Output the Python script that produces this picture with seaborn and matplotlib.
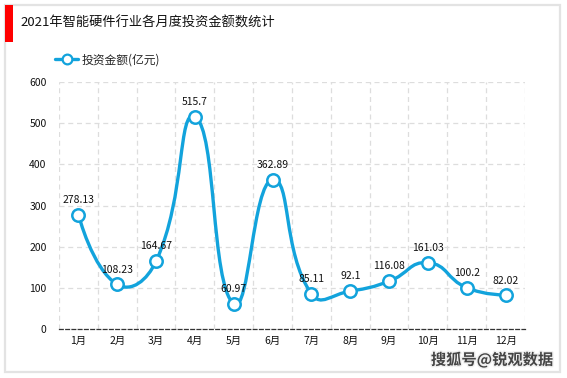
import numpy as np
import matplotlib
matplotlib.use('Agg')
import matplotlib.pyplot as plt
import matplotlib.patheffects as pe
from matplotlib.path import Path
from matplotlib.patches import PathPatch, Rectangle
from matplotlib.lines import Line2D
import seaborn as sns
import pandas as pd

# Data
months = ['1月', '2月', '3月', '4月', '5月', '6月', '7月', '8月', '9月', '10月', '11月', '12月']
invest = [278.13, 108.23, 164.67, 515.7, 60.97, 362.89, 85.11, 92.1, 116.08, 161.03, 100.2, 82.02]
value_labels = ['278.13', '108.23', '164.67', '515.7', '60.97', '362.89', '85.11', '92.1', '116.08', '161.03', '100.2', '82.02']

title = '2021年智能硬件行业各月度投资金额数统计'
series_name = '投资金额(亿元)'
watermark = '搜狐号@锐观数据'

sns.set_theme(style='white')
plt.rcParams['font.family'] = ['Noto Sans CJK SC', 'DejaVu Sans']

blue = '#12a3dc'
df = pd.DataFrame({'idx': np.arange(len(months)), 'val': invest})

fig = plt.figure(figsize=(5.67, 3.78), dpi=100)
ax = fig.add_axes([59 / 567, 49 / 378, 466 / 567, 247 / 378])

# outer frame + red title bar
fig.patches.append(Rectangle((5 / 567, 6 / 378), 555 / 567, 367 / 378, transform=fig.transFigure,
                             fill=False, edgecolor='#e3e3e3', linewidth=1.6))
fig.patches.append(Rectangle((5 / 567, 336 / 378), 8 / 567, 37 / 378, transform=fig.transFigure,
                             facecolor='#ff0000', edgecolor='none'))
fig.text(20 / 567, 1 - 23 / 378, title, fontsize=9.5, va='center', ha='left', color='#111111')

ax.set_xlim(-0.5, len(months) - 0.5)
ax.set_ylim(0, 600)

# smooth curve (echarts-style bezier), control points worked out in pixel units
xs = df['idx'].to_numpy(dtype=float)
ys = df['val'].to_numpy(dtype=float)
sx, sy = 38.8, 247 / 600
P = np.column_stack([xs * sx, ys * sy])
smooth = 0.5
n = len(P)
cps = []
for i in range(n):
    if i == 0 or i == n - 1:
        cps.append((P[i], P[i]))
        continue
    p0, p2 = P[i - 1], P[i + 1]
    v = (p2 - p0) * smooth
    d0 = np.linalg.norm(P[i] - p0)
    d1 = np.linalg.norm(p2 - P[i])
    tot = d0 + d1
    cps.append((P[i] - v * d0 / tot, P[i] + v * d1 / tot))
verts = [tuple(P[0])]
codes = [Path.MOVETO]
for i in range(n - 1):
    verts += [tuple(cps[i][1]), tuple(cps[i + 1][0]), tuple(P[i + 1])]
    codes += [Path.CURVE4] * 3
verts = [(vx / sx, vy / sy) for vx, vy in verts]
ax.add_patch(PathPatch(Path(verts, codes), fill=False, edgecolor=blue, linewidth=2.4,
                       zorder=3, capstyle='round', joinstyle='round'))

sns.scatterplot(data=df, x='idx', y='val', ax=ax, s=80, color='white', edgecolor=blue,
                linewidth=1.8, zorder=4, legend=False)

for x, y, lab in zip(xs, ys, value_labels):
    ax.annotate(lab, (x, y), xytext=(0, 7), textcoords='offset points', ha='center',
                va='bottom', fontsize=7.5, color='#111111', zorder=5)

# grid & axes
ax.set_yticks(range(0, 601, 100))
ax.set_xticks(xs)
ax.set_xticklabels(months)
ax.set_xticks(np.arange(-0.5, len(months), 1), minor=True)
ax.grid(axis='y', which='major', linestyle=(0, (4, 3)), color='#dddddd', linewidth=0.9)
ax.grid(axis='x', which='minor', linestyle=(0, (4, 3)), color='#dddddd', linewidth=0.9)
ax.tick_params(axis='both', which='both', length=0, labelsize=7.5, colors='#111111')
ax.tick_params(axis='y', pad=9)
ax.tick_params(axis='x', pad=5)
ax.set_xlabel('')
ax.set_ylabel('')
for s in ['left', 'right', 'top']:
    ax.spines[s].set_visible(False)
ax.spines['bottom'].set_linestyle((0, (3, 2)))
ax.spines['bottom'].set_color('#333333')
ax.spines['bottom'].set_linewidth(0.9)

# legend
handle = Line2D([], [], color=blue, linewidth=2.4, marker='o', markersize=7,
                markerfacecolor='white', markeredgecolor=blue, markeredgewidth=1.6)
fig.legend([handle], [series_name], loc='center left', bbox_to_anchor=(50 / 567, 1 - 60 / 378),
           frameon=False, fontsize=8.5, handlelength=2.0, handletextpad=0.3, borderaxespad=0)

fig.text(553 / 567, 1 - 360 / 378, watermark, fontsize=11, ha='right', va='center',
         color='#444444', fontweight='bold',
         path_effects=[pe.withStroke(linewidth=2, foreground='#f0f0f0')])

fig.savefig('out.png', dpi=100)
